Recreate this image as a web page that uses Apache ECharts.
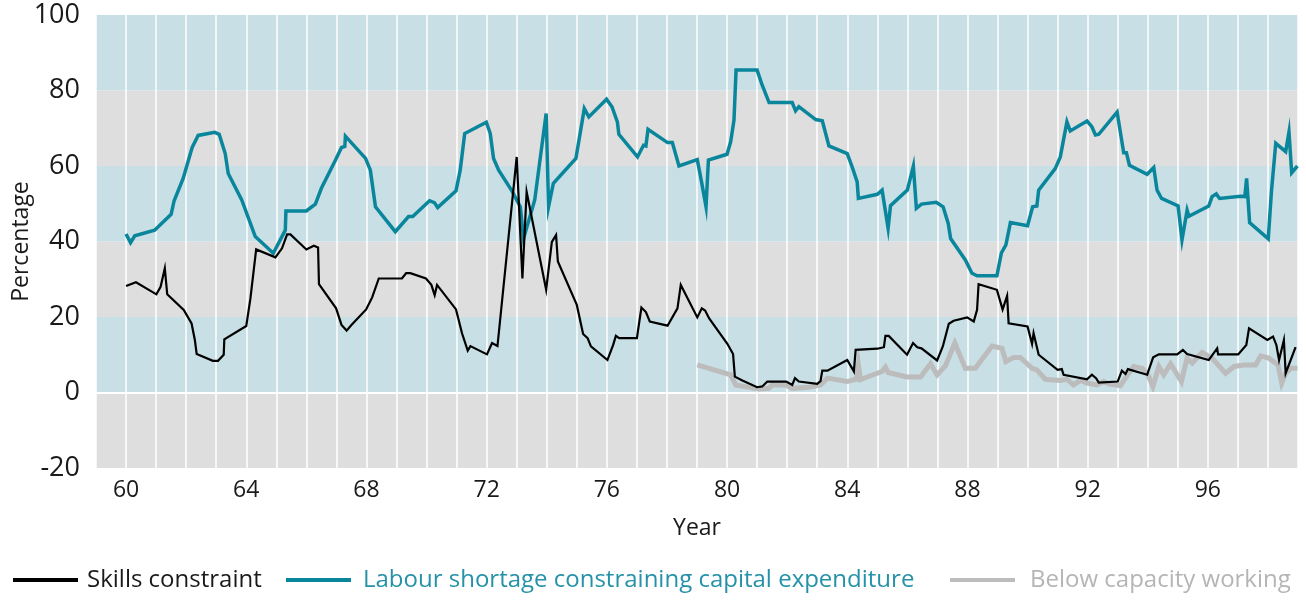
<!DOCTYPE html>
<html>
<head>
<meta charset="utf-8">
<script src="https://cdn.jsdelivr.net/npm/echarts@6/dist/echarts.min.js"></script>
<style>
html,body{margin:0;padding:0;background:#fff;}
#chart{width:1306px;height:601px;}
</style>
</head>
<body>
<div id="chart"></div>
<script>
// Tick labels on the x axis (years, two digits)
const xTickLabels = [60, 64, 68, 72, 76, 80, 84, 88, 92, 96];
const yTicks = [-20, 0, 20, 40, 60, 80, 100];

const seriesNames = [
  'Skills constraint',
  'Labour shortage constraining capital expenditure',
  'Below capacity working'
];

// [year, percentage]
const skillsConstraint = [
  [60.0,28.2],[60.33,29.2],[61.01,26.0],[61.15,28.0],[61.29,32.9],[61.37,26.0],[61.92,21.9],[62.18,18.3],
  [62.29,13.9],[62.35,10.2],[62.89,8.4],[63.06,8.4],[63.25,10.0],[63.27,14.1],[64.0,17.6],[64.14,25.0],
  [64.33,37.9],[64.97,35.8],[65.19,38.2],[65.36,41.9],[65.47,41.9],[66.0,37.9],[66.25,38.9],[66.39,38.4],
  [66.42,28.7],[66.99,22.3],[67.17,17.9],[67.34,16.4],[67.5,17.9],[67.99,22.0],[68.19,25.2],[68.41,30.2],
  [69.18,30.2],[69.32,31.6],[69.46,31.6],[69.98,30.2],[70.16,28.5],[70.27,25.8],[70.35,28.5],[70.98,22.0],
  [71.18,15.7],[71.37,11.1],[71.46,12.3],[72.01,10.1],[72.18,13.1],[72.36,12.3],[73.0,62.4],[73.19,30.2],
  [73.33,53.2],[73.98,27.2],[74.17,39.9],[74.31,41.7],[74.37,34.7],[75.0,23.2],[75.21,15.5],[75.36,14.4],
  [75.47,12.2],[76.02,8.6],[76.21,12.6],[76.3,15.0],[76.41,14.4],[77.0,14.4],[77.15,22.5],[77.3,21.3],
  [77.43,18.8],[78.02,17.7],[78.35,22.3],[78.46,28.5],[79.01,19.9],[79.16,22.3],[79.27,21.7],[79.4,19.7],
  [80.01,12.9],[80.2,10.2],[80.26,4.2],[80.51,3.2],[81.0,1.4],[81.17,1.6],[81.34,2.9],[81.97,2.9],
  [82.17,2.0],[82.26,3.8],[82.39,2.9],[83.0,2.3],[83.11,3.0],[83.17,5.8],[83.34,5.8],[84.0,8.6],
  [84.22,5.6],[84.28,11.3],[85.0,11.6],[85.22,12.0],[85.27,15.0],[85.38,15.0],[85.99,10.0],[86.19,13.1],
  [86.33,12.0],[86.47,11.7],[86.99,8.5],[87.18,12.2],[87.38,18.2],[87.54,19.0],[87.99,19.9],[88.21,18.8],
  [88.32,21.9],[88.37,28.7],[88.98,27.2],[89.17,22.0],[89.32,25.6],[89.37,18.3],[90.0,17.5],[90.15,12.9],
  [90.2,15.7],[90.37,10.0],[91.0,6.0],[91.14,6.2],[91.2,4.7],[91.98,3.5],[92.14,4.7],[92.28,3.8],
  [92.37,2.6],[93.0,2.9],[93.14,5.8],[93.26,4.9],[93.34,6.2],[93.98,4.7],[94.18,9.3],[94.37,10.1],
  [94.98,10.1],[95.17,11.3],[95.31,10.2],[96.03,8.6],[96.31,11.7],[96.34,10.1],[97.01,10.1],[97.28,12.6],
  [97.37,17.0],[97.98,13.9],[98.17,14.8],[98.28,12.6],[98.37,8.6],[98.53,13.9],[98.59,5.1],[98.92,12.0]
];

const labourShortage = [
  [60.0,42.0],[60.15,39.7],[60.29,41.5],[60.95,43.0],[61.5,47.2],[61.6,50.8],[61.9,56.7],[62.2,64.9],
  [62.4,68.1],[62.95,68.9],[63.1,68.4],[63.3,63.3],[63.4,58.0],[63.85,51.0],[64.3,41.3],[64.9,36.9],
  [65.3,43.0],[65.32,48.1],[66.0,48.1],[66.3,49.9],[66.5,54.1],[66.97,61.6],[67.17,64.9],[67.28,65.2],
  [67.3,67.9],[67.97,62.0],[68.13,58.9],[68.3,49.2],[68.96,42.6],[69.4,46.6],[69.54,46.6],[70.1,50.8],
  [70.26,50.3],[70.37,49.0],[70.98,53.4],[71.12,58.9],[71.27,68.6],[71.99,71.6],[72.12,68.6],[72.23,62.0],
  [72.4,58.9],[72.84,53.4],[73.12,49.2],[73.23,40.8],[73.6,51.0],[73.98,73.9],[74.06,49.2],[74.22,55.4],
  [74.97,62.0],[75.25,75.2],[75.4,73.0],[75.99,77.7],[76.17,75.7],[76.35,71.7],[76.4,68.4],[77.02,62.4],
  [77.22,65.5],[77.3,65.3],[77.37,69.7],[78.02,66.2],[78.18,66.2],[78.4,60.0],[79.01,61.7],[79.16,55.4],
  [79.3,49.2],[79.38,61.6],[80.0,63.1],[80.12,66.4],[80.23,72.1],[80.3,85.4],[81.0,85.4],[81.17,81.4],
  [81.4,76.8],[82.17,76.8],[82.28,74.6],[82.39,75.7],[82.95,72.3],[83.17,72.0],[83.39,65.3],[84.0,63.3],
  [84.17,59.6],[84.33,55.8],[84.37,51.4],[85.0,52.5],[85.16,53.6],[85.36,43.5],[85.44,49.5],[86.0,53.6],
  [86.2,60.0],[86.3,48.8],[86.47,49.9],[86.96,50.4],[87.19,49.2],[87.36,44.8],[87.44,40.8],[87.93,35.1],
  [88.15,31.6],[88.32,30.9],[88.98,30.9],[89.13,37.0],[89.28,39.1],[89.43,45.0],[90.0,44.2],[90.17,49.2],
  [90.31,49.4],[90.37,53.6],[90.92,59.3],[91.09,62.4],[91.31,71.7],[91.42,69.3],[91.98,71.9],[92.14,70.4],
  [92.26,68.2],[92.37,68.4],[92.98,74.3],[93.2,63.5],[93.29,63.5],[93.39,60.2],[93.98,57.8],[94.2,59.6],
  [94.31,53.6],[94.46,51.4],[95.01,49.4],[95.14,40.4],[95.31,48.3],[95.37,46.7],[96.03,49.4],[96.14,51.9],
  [96.28,52.6],[96.39,51.4],[97.09,52.0],[97.23,51.9],[97.29,56.7],[97.39,45.0],[98.01,40.7],[98.12,53.6],
  [98.26,66.0],[98.59,63.8],[98.7,69.0],[98.79,58.2],[98.98,60.0]
];

const belowCapacity = [
  [79.01,7.3],[80.12,4.7],[80.29,2.0],[81.06,0.9],[81.39,1.1],[81.5,2.0],[81.95,2.0],[82.17,1.1],
  [82.72,1.4],[83.11,2.0],[83.34,3.8],[84.0,2.9],[84.3,3.5],[84.37,7.3],[84.44,3.4],[85.0,5.1],
  [85.16,5.6],[85.27,6.7],[85.36,5.3],[85.99,4.1],[86.44,4.1],[86.77,7.6],[86.99,4.7],[87.27,7.1],
  [87.58,13.1],[87.93,6.4],[88.26,6.4],[88.82,12.3],[89.15,11.7],[89.28,8.2],[89.54,9.3],[89.76,9.3],
  [90.15,6.4],[90.31,6.0],[90.59,3.5],[91.09,3.2],[91.31,3.5],[91.53,2.0],[91.76,3.2],[91.98,2.5],
  [92.31,2.0],[92.53,2.9],[92.7,2.3],[93.09,1.8],[93.31,4.4],[93.53,6.9],[93.81,6.4],[94.01,4.7],
  [94.17,1.6],[94.37,6.9],[94.53,4.7],[94.76,7.6],[95.12,2.9],[95.31,9.1],[95.48,7.8],[95.81,10.6],
  [96.14,9.1],[96.59,5.1],[96.87,6.9],[97.2,7.3],[97.59,7.3],[97.76,9.7],[98.03,9.1],[98.34,7.3],
  [98.46,2.5],[98.59,5.1],[98.76,6.4],[98.98,6.4]
];

const FONT = '"Open Sans", sans-serif';
const chart = echarts.init(document.getElementById('chart'), null, {renderer: 'canvas'});

function legendAt(name, left, color, textGap) {
  return {
    show: true,
    left: left,
    top: 568,
    orient: 'horizontal',
    icon: 'rect',
    itemWidth: 65,
    itemHeight: 4,
    itemGap: 0,
    padding: 0,
    selectedMode: false,
    data: [{name: name, textStyle: {color: color}}],
    textStyle: {fontFamily: FONT, fontSize: 24, padding: [0, 0, 0, textGap - 5]}
  };
}

chart.setOption({
  animation: false,
  backgroundColor: '#ffffff',
  textStyle: {fontFamily: FONT},
  grid: {left: 96, right: 8, top: 15, bottom: 133, containLabel: false, outerBoundsMode: 'none'},
  legend: [
    legendAt(seriesNames[0], 13, '#1a1a1a', 9),
    legendAt(seriesNames[1], 286, '#2592a8', 12),
    legendAt(seriesNames[2], 950, '#b5b5b5', 15)
  ],
  xAxis: {
    type: 'value',
    min: 59,
    max: 99,
    interval: 1,
    name: 'Year',
    nameLocation: 'middle',
    nameGap: 49,
    nameMoveOverlap: false,
    nameTextStyle: {fontFamily: FONT, fontSize: 23, color: '#1a1a1a'},
    axisLine: {show: false},
    axisTick: {show: false},
    axisLabel: {
      margin: 11,
      fontFamily: FONT,
      fontSize: 23,
      color: '#1a1a1a',
      formatter: function (v) {
        return xTickLabels.indexOf(Math.round(v)) >= 0 && Math.abs(v - Math.round(v)) < 1e-6 ? String(Math.round(v)) : '';
      }
    },
    splitLine: {show: true, lineStyle: {color: '#ffffff', width: 1.5}}
  },
  yAxis: {
    type: 'value',
    min: yTicks[0],
    max: yTicks[yTicks.length - 1],
    interval: 20,
    name: 'Percentage',
    nameLocation: 'middle',
    nameRotate: 90,
    nameGap: 63,
    nameMoveOverlap: false,
    nameTextStyle: {fontFamily: FONT, fontSize: 23, color: '#1a1a1a'},
    axisLine: {show: false},
    axisTick: {show: false},
    axisLabel: {margin: 16, fontFamily: FONT, fontSize: 27, color: '#1a1a1a'},
    splitLine: {show: false},
    splitArea: {show: true, areaStyle: {color: ['#dedede', '#c8dfe5']}}
  },
  series: [
    {
      name: 'zero',
      type: 'line',
      data: [],
      z: 1,
      silent: true,
      markLine: {
        silent: true,
        symbol: ['none', 'none'],
        label: {show: false},
        lineStyle: {color: '#ffffff', width: 2, type: 'solid'},
        data: [{yAxis: 0}]
      }
    },
    {
      name: seriesNames[2],
      type: 'line',
      data: belowCapacity,
      showSymbol: false,
      symbol: 'none',
      z: 2,
      color: '#bcbcbc',
      lineStyle: {color: '#bcbcbc', width: 5, join: 'miter'}
    },
    {
      name: seriesNames[1],
      type: 'line',
      data: labourShortage,
      showSymbol: false,
      symbol: 'none',
      z: 3,
      color: '#0a869c',
      lineStyle: {color: '#0a869c', width: 3.5, join: 'miter'}
    },
    {
      name: seriesNames[0],
      type: 'line',
      data: skillsConstraint,
      showSymbol: false,
      symbol: 'none',
      z: 4,
      color: '#000000',
      lineStyle: {color: '#000000', width: 2.2, join: 'miter'}
    }
  ]
});
</script>
</body>
</html>
